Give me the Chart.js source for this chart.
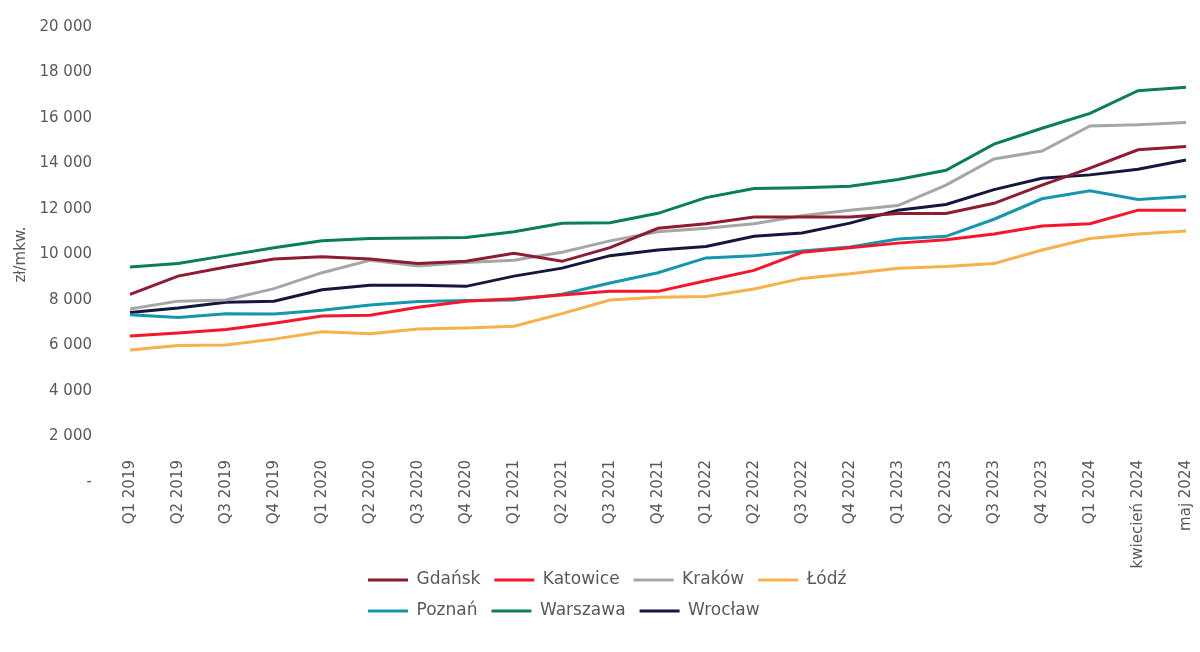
<!DOCTYPE html>
<html>
<head>
<meta charset="utf-8">
<script src="https://cdn.jsdelivr.net/npm/chart.js@4.4.1/dist/chart.umd.min.js"></script>
<style>
  html, body { margin: 0; padding: 0; background: #ffffff; }
  #wrap { width: 1200px; height: 652px; position: relative; }
</style>
</head>
<body>
<div id="wrap"><canvas id="c"></canvas></div>
<script>
const categories = ['Q1 2019','Q2 2019','Q3 2019','Q4 2019','Q1 2020','Q2 2020','Q3 2020','Q4 2020',
  'Q1 2021','Q2 2021','Q3 2021','Q4 2021','Q1 2022','Q2 2022','Q3 2022','Q4 2022',
  'Q1 2023','Q2 2023','Q3 2023','Q4 2023','Q1 2024','kwiecień 2024','maj 2024'];

const gdansk   = [8250, 9050, 9450, 9800, 9900, 9800, 9600, 9700, 10050, 9700, 10300, 11150, 11350, 11650, 11650, 11650, 11800, 11800, 12250, 13050, 13800, 14600, 14750];
const katowice = [6420, 6550, 6700, 6980, 7300, 7330, 7680, 7950, 8050, 8220, 8380, 8380, 8850, 9300, 10100, 10300, 10500, 10650, 10900, 11250, 11350, 11950, 11950];
const krakow   = [7600, 7950, 8000, 8500, 9200, 9750, 9500, 9650, 9750, 10100, 10600, 11000, 11150, 11350, 11700, 11950, 12150, 13050, 14200, 14550, 15650, 15700, 15800];
const lodz     = [5800, 6000, 6020, 6280, 6600, 6520, 6720, 6770, 6850, 7400, 8000, 8120, 8150, 8480, 8950, 9150, 9400, 9470, 9600, 10200, 10700, 10900, 11030];
const poznan   = [7350, 7230, 7400, 7380, 7550, 7780, 7930, 7980, 8000, 8250, 8750, 9200, 9850, 9950, 10150, 10330, 10680, 10800, 11550, 12450, 12800, 12420, 12550];
const warszawa = [9450, 9600, 9950, 10300, 10600, 10700, 10730, 10750, 11000, 11370, 11400, 11810, 12500, 12900, 12930, 13000, 13300, 13700, 14850, 15550, 16200, 17200, 17350];
const wroclaw  = [7450, 7650, 7900, 7950, 8450, 8650, 8650, 8600, 9050, 9400, 9950, 10200, 10350, 10800, 10950, 11380, 11950, 12200, 12850, 13350, 13500, 13750, 14150];

const seriesNames = ['Gdańsk','Katowice','Kraków','Łódź','Poznań','Warszawa','Wrocław'];
const seriesData = [gdansk, katowice, krakow, lodz, poznan, warszawa, wroclaw];
const seriesColors = ['#8E1B32','#F5162B','#A6A6A6','#F8B04A','#1696AC','#0A7F56','#15163F'];

const yTickMin = 0, yTickMax = 20000, yTickStep = 2000;
const yTitle = 'zł/mkw.';

const TEXT = '#595959';
const LEGEND_LEFT = 354, LEGEND_WIDTH = 570;

Chart.defaults.font.family = "'DejaVu Sans', sans-serif";
Chart.defaults.color = TEXT;

const legendFix = {
  id: 'legendFix',
  afterInit(chart) {
    const lg = chart.legend;
    if (!lg) return;
    const orig = lg.update;
    lg.update = function(maxWidth, maxHeight, margins) {
      orig.call(this, Math.min(maxWidth, LEGEND_WIDTH), maxHeight, margins);
    };
  },
  afterLayout(chart) {
    const lg = chart.legend;
    if (!lg) return;
    lg.left = LEGEND_LEFT;
    lg.right = LEGEND_LEFT + LEGEND_WIDTH;
    lg.width = LEGEND_WIDTH;
  }
};

function fmt(v) {
  if (v === 0) return '-';
  return String(v).replace(/\B(?=(\d{3})+(?!\d))/g, ' ');
}

new Chart(document.getElementById('c'), {
  type: 'line',
  data: {
    labels: categories,
    datasets: seriesNames.map((n, i) => ({
      label: n,
      data: seriesData[i],
      borderColor: seriesColors[i],
      backgroundColor: seriesColors[i],
      borderWidth: 3,
      pointRadius: 0,
      pointHoverRadius: 0,
      tension: 0,
      fill: false
    }))
  },
  options: {
    responsive: true,
    maintainAspectRatio: false,
    animation: false,
    layout: { padding: { top: 27, right: 14, bottom: 22.5, left: 0 } },
    plugins: {
      tooltip: { enabled: false },
      legend: {
        position: 'bottom',
        align: 'start',
        labels: {
          usePointStyle: true,
          pointStyle: 'line',
          pointStyleWidth: 40,
          padding: 14,
          color: TEXT,
          font: { size: 17 }
        }
      }
    },
    scales: {
      x: {
        type: 'category',
        offset: false,
        grid: { display: false, drawTicks: false },
        border: { display: false },
        ticks: {
          autoSkip: false,
          maxRotation: 90,
          minRotation: 90,
          padding: -22,
          color: TEXT,
          font: { size: 15 }
        },
        afterFit(scale) {
          scale.height = 75.5;
          scale._computeLabelArea = function() { return undefined; };
        }
      },
      y: {
        min: yTickMin,
        max: yTickMax,
        grid: { display: false, drawTicks: false },
        border: { display: false },
        ticks: {
          stepSize: yTickStep,
          padding: 38,
          color: TEXT,
          font: { size: 15 },
          callback: (v) => fmt(v)
        },
        title: {
          display: true,
          text: yTitle,
          color: TEXT,
          font: { size: 15 },
          padding: { top: 12, bottom: 4 }
        },
        afterFit(scale) {
          scale.width = 130;
          scale.paddingTop = 9;
          scale.paddingBottom = 9;
        }
      }
    }
  },
  plugins: [legendFix]
});
</script>
</body>
</html>
